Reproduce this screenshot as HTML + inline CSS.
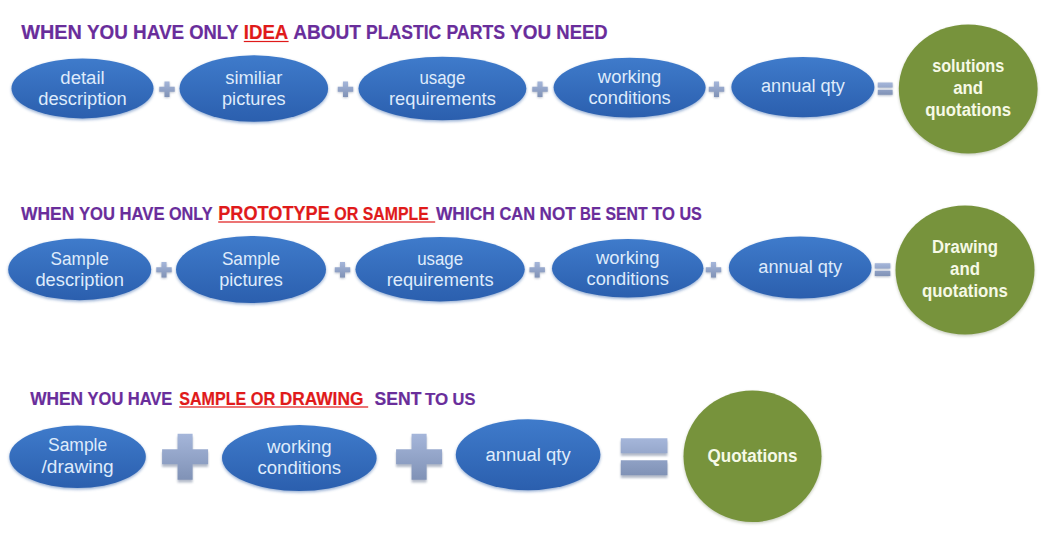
<!DOCTYPE html>
<html lang="en">
<head>
<meta charset="utf-8">
<title>Inquiry guide</title>
<style>
html,body{margin:0;padding:0;background:#fff;}
body{width:1060px;height:537px;overflow:hidden;}
svg{display:block;}
text{font-family:"Liberation Sans", sans-serif;}
.h{font-weight:700;fill:#692d9b;stroke:#692d9b;stroke-width:0.2;}
.r{font-weight:700;fill:#e01a1a;stroke:#e01a1a;stroke-width:0.2;}
.e{fill:#dfebfb;text-anchor:middle;}
.c{fill:#f6f9e6;font-weight:700;text-anchor:middle;}
</style>
</head>
<body>
<svg width="1060" height="537" viewBox="0 0 1060 537">
<defs>
<linearGradient id="gb" x1="0" y1="0" x2="0" y2="1">
<stop offset="0" stop-color="#3f7bcb"/><stop offset="1" stop-color="#2b5fae"/>
</linearGradient>
<linearGradient id="gp" x1="0" y1="0" x2="0" y2="1">
<stop offset="0" stop-color="#a5b6da"/><stop offset="1" stop-color="#8092b6"/>
</linearGradient>
<filter id="sh" x="-10%" y="-20%" width="120%" height="150%">
<feGaussianBlur stdDeviation="1.6"/>
</filter>
<filter id="sh2" x="-30%" y="-30%" width="160%" height="170%">
<feGaussianBlur stdDeviation="1.2"/>
</filter>
</defs>
<rect width="1060" height="537" fill="#fff"/>

<ellipse cx="82.5" cy="89.9" rx="71" ry="30.0" fill="#2f5fa8" opacity="0.5" filter="url(#sh)"/>
<ellipse cx="82.5" cy="88.4" rx="71" ry="30.0" fill="url(#gb)"/>
<text class="e" x="82.5" y="83.9" font-size="18.00" textLength="44.4" lengthAdjust="spacingAndGlyphs">detail</text>
<text class="e" x="82.5" y="104.9" font-size="18.00" textLength="88.6" lengthAdjust="spacingAndGlyphs">description</text>
<ellipse cx="253.8" cy="90.0" rx="74.3" ry="33.2" fill="#2f5fa8" opacity="0.5" filter="url(#sh)"/>
<ellipse cx="253.8" cy="88.5" rx="74.3" ry="33.2" fill="url(#gb)"/>
<text class="e" x="253.8" y="83.7" font-size="18.00" textLength="57.2" lengthAdjust="spacingAndGlyphs">similiar</text>
<text class="e" x="253.8" y="104.7" font-size="18.00" textLength="63.6" lengthAdjust="spacingAndGlyphs">pictures</text>
<ellipse cx="442.4" cy="90.0" rx="83.9" ry="31.8" fill="#2f5fa8" opacity="0.5" filter="url(#sh)"/>
<ellipse cx="442.4" cy="88.5" rx="83.9" ry="31.8" fill="url(#gb)"/>
<text class="e" x="442.4" y="83.7" font-size="18.00" textLength="45.9" lengthAdjust="spacingAndGlyphs">usage</text>
<text class="e" x="442.4" y="104.7" font-size="18.00" textLength="106.9" lengthAdjust="spacingAndGlyphs">requirements</text>
<ellipse cx="629.6" cy="89.1" rx="76" ry="29.8" fill="#2f5fa8" opacity="0.5" filter="url(#sh)"/>
<ellipse cx="629.6" cy="87.6" rx="76" ry="29.8" fill="url(#gb)"/>
<text class="e" x="629.6" y="82.8" font-size="18.00" textLength="63.5" lengthAdjust="spacingAndGlyphs">working</text>
<text class="e" x="629.6" y="103.8" font-size="18.00" textLength="82.3" lengthAdjust="spacingAndGlyphs">conditions</text>
<ellipse cx="802.9" cy="88.6" rx="71.5" ry="30.2" fill="#2f5fa8" opacity="0.5" filter="url(#sh)"/>
<ellipse cx="802.9" cy="87.1" rx="71.5" ry="30.2" fill="url(#gb)"/>
<text class="e" x="802.9" y="91.9" font-size="18.00" textLength="83.8" lengthAdjust="spacingAndGlyphs">annual qty</text>
<path d="M164.5 81.5h5.0v5.2h5.2v5.0h-5.2v5.2h-5.0v-5.2h-5.2v-5.0h5.2z" fill="#5a6a8a" opacity="0.45" filter="url(#sh2)" transform="translate(0,0.9)"/>
<path d="M164.5 81.5h5.0v5.2h5.2v5.0h-5.2v5.2h-5.0v-5.2h-5.2v-5.0h5.2z" fill="url(#gp)"/>
<path d="M343.0 81.5h5.0v5.2h5.2v5.0h-5.2v5.2h-5.0v-5.2h-5.2v-5.0h5.2z" fill="#5a6a8a" opacity="0.45" filter="url(#sh2)" transform="translate(0,0.9)"/>
<path d="M343.0 81.5h5.0v5.2h5.2v5.0h-5.2v5.2h-5.0v-5.2h-5.2v-5.0h5.2z" fill="url(#gp)"/>
<path d="M537.5 81.5h5.0v5.2h5.2v5.0h-5.2v5.2h-5.0v-5.2h-5.2v-5.0h5.2z" fill="#5a6a8a" opacity="0.45" filter="url(#sh2)" transform="translate(0,0.9)"/>
<path d="M537.5 81.5h5.0v5.2h5.2v5.0h-5.2v5.2h-5.0v-5.2h-5.2v-5.0h5.2z" fill="url(#gp)"/>
<path d="M714.0 81.5h5.0v5.2h5.2v5.0h-5.2v5.2h-5.0v-5.2h-5.2v-5.0h5.2z" fill="#5a6a8a" opacity="0.45" filter="url(#sh2)" transform="translate(0,0.9)"/>
<path d="M714.0 81.5h5.0v5.2h5.2v5.0h-5.2v5.2h-5.0v-5.2h-5.2v-5.0h5.2z" fill="url(#gp)"/>
<path d="M877.8 82.6h14.8v5.0h-14.8zM877.8 89.8h14.8v5.0h-14.8z" fill="#5a6a8a" opacity="0.45" filter="url(#sh2)" transform="translate(0,0.9)"/>
<path d="M877.8 82.6h14.8v5.0h-14.8zM877.8 89.8h14.8v5.0h-14.8z" fill="url(#gp)"/>
<ellipse cx="968.2" cy="90.5" rx="69.4" ry="64.6" fill="#4a5a2a" opacity="0.3" filter="url(#sh)"/>
<ellipse cx="968.2" cy="89" rx="69.4" ry="64.6" fill="#77933c"/>
<text class="c" x="968.2" y="71.8" font-size="17.50" textLength="72.1" lengthAdjust="spacingAndGlyphs">solutions</text>
<text class="c" x="968.2" y="93.7" font-size="17.50" textLength="29.9" lengthAdjust="spacingAndGlyphs">and</text>
<text class="c" x="968.2" y="115.6" font-size="17.50" textLength="85.8" lengthAdjust="spacingAndGlyphs">quotations</text>
<ellipse cx="79.7" cy="270.9" rx="71.5" ry="30.8" fill="#2f5fa8" opacity="0.5" filter="url(#sh)"/>
<ellipse cx="79.7" cy="269.4" rx="71.5" ry="30.8" fill="url(#gb)"/>
<text class="e" x="79.7" y="264.5" font-size="18.00" textLength="58.2" lengthAdjust="spacingAndGlyphs">Sample</text>
<text class="e" x="79.7" y="285.5" font-size="18.00" textLength="88.6" lengthAdjust="spacingAndGlyphs">description</text>
<ellipse cx="251" cy="271.0" rx="75" ry="33.5" fill="#2f5fa8" opacity="0.5" filter="url(#sh)"/>
<ellipse cx="251" cy="269.5" rx="75" ry="33.5" fill="url(#gb)"/>
<text class="e" x="251" y="264.6" font-size="18.00" textLength="58.2" lengthAdjust="spacingAndGlyphs">Sample</text>
<text class="e" x="251" y="285.6" font-size="18.00" textLength="63.6" lengthAdjust="spacingAndGlyphs">pictures</text>
<ellipse cx="440.1" cy="270.8" rx="84.6" ry="32.2" fill="#2f5fa8" opacity="0.5" filter="url(#sh)"/>
<ellipse cx="440.1" cy="269.3" rx="84.6" ry="32.2" fill="url(#gb)"/>
<text class="e" x="440.1" y="264.6" font-size="18.00" textLength="45.9" lengthAdjust="spacingAndGlyphs">usage</text>
<text class="e" x="440.1" y="285.6" font-size="18.00" textLength="106.9" lengthAdjust="spacingAndGlyphs">requirements</text>
<ellipse cx="627.7" cy="269.8" rx="75.7" ry="29.3" fill="#2f5fa8" opacity="0.5" filter="url(#sh)"/>
<ellipse cx="627.7" cy="268.3" rx="75.7" ry="29.3" fill="url(#gb)"/>
<text class="e" x="627.7" y="263.6" font-size="18.00" textLength="63.5" lengthAdjust="spacingAndGlyphs">working</text>
<text class="e" x="627.7" y="284.6" font-size="18.00" textLength="82.3" lengthAdjust="spacingAndGlyphs">conditions</text>
<ellipse cx="800.2" cy="269.0" rx="71.3" ry="31" fill="#2f5fa8" opacity="0.5" filter="url(#sh)"/>
<ellipse cx="800.2" cy="267.5" rx="71.3" ry="31" fill="url(#gb)"/>
<text class="e" x="800.2" y="273.1" font-size="18.00" textLength="83.8" lengthAdjust="spacingAndGlyphs">annual qty</text>
<path d="M161.5 262.1h5.0v5.2h5.2v5.0h-5.2v5.2h-5.0v-5.2h-5.2v-5.0h5.2z" fill="#5a6a8a" opacity="0.45" filter="url(#sh2)" transform="translate(0,0.9)"/>
<path d="M161.5 262.1h5.0v5.2h5.2v5.0h-5.2v5.2h-5.0v-5.2h-5.2v-5.0h5.2z" fill="url(#gp)"/>
<path d="M340.0 262.1h5.0v5.2h5.2v5.0h-5.2v5.2h-5.0v-5.2h-5.2v-5.0h5.2z" fill="#5a6a8a" opacity="0.45" filter="url(#sh2)" transform="translate(0,0.9)"/>
<path d="M340.0 262.1h5.0v5.2h5.2v5.0h-5.2v5.2h-5.0v-5.2h-5.2v-5.0h5.2z" fill="url(#gp)"/>
<path d="M534.7 262.1h5.0v5.2h5.2v5.0h-5.2v5.2h-5.0v-5.2h-5.2v-5.0h5.2z" fill="#5a6a8a" opacity="0.45" filter="url(#sh2)" transform="translate(0,0.9)"/>
<path d="M534.7 262.1h5.0v5.2h5.2v5.0h-5.2v5.2h-5.0v-5.2h-5.2v-5.0h5.2z" fill="url(#gp)"/>
<path d="M711.0 262.1h5.0v5.2h5.2v5.0h-5.2v5.2h-5.0v-5.2h-5.2v-5.0h5.2z" fill="#5a6a8a" opacity="0.45" filter="url(#sh2)" transform="translate(0,0.9)"/>
<path d="M711.0 262.1h5.0v5.2h5.2v5.0h-5.2v5.2h-5.0v-5.2h-5.2v-5.0h5.2z" fill="url(#gp)"/>
<path d="M874.8 263.2h15.5v5.3h-15.5zM874.8 270.8h15.5v5.3h-15.5z" fill="#5a6a8a" opacity="0.45" filter="url(#sh2)" transform="translate(0,0.9)"/>
<path d="M874.8 263.2h15.5v5.3h-15.5zM874.8 270.8h15.5v5.3h-15.5z" fill="url(#gp)"/>
<ellipse cx="965" cy="271.5" rx="69.5" ry="64.6" fill="#4a5a2a" opacity="0.3" filter="url(#sh)"/>
<ellipse cx="965" cy="270" rx="69.5" ry="64.6" fill="#77933c"/>
<text class="c" x="965" y="253.0" font-size="17.50" textLength="65.9" lengthAdjust="spacingAndGlyphs">Drawing</text>
<text class="c" x="965" y="274.9" font-size="17.50" textLength="29.9" lengthAdjust="spacingAndGlyphs">and</text>
<text class="c" x="965" y="296.8" font-size="17.50" textLength="85.8" lengthAdjust="spacingAndGlyphs">quotations</text>
<ellipse cx="77.6" cy="458.3" rx="68.2" ry="31.2" fill="#2f5fa8" opacity="0.5" filter="url(#sh)"/>
<ellipse cx="77.6" cy="456.8" rx="68.2" ry="31.2" fill="url(#gb)"/>
<text class="e" x="77.6" y="451.1" font-size="18.28" textLength="59.2" lengthAdjust="spacingAndGlyphs">Sample</text>
<text class="e" x="77.6" y="472.5" font-size="18.28" textLength="72.3" lengthAdjust="spacingAndGlyphs">/drawing</text>
<ellipse cx="299.3" cy="459.5" rx="77.3" ry="33" fill="#2f5fa8" opacity="0.5" filter="url(#sh)"/>
<ellipse cx="299.3" cy="458" rx="77.3" ry="33" fill="url(#gb)"/>
<text class="e" x="299.3" y="452.7" font-size="18.28" textLength="64.5" lengthAdjust="spacingAndGlyphs">working</text>
<text class="e" x="299.3" y="474.1" font-size="18.28" textLength="83.6" lengthAdjust="spacingAndGlyphs">conditions</text>
<ellipse cx="528.1" cy="456.3" rx="72.3" ry="35.5" fill="#2f5fa8" opacity="0.5" filter="url(#sh)"/>
<ellipse cx="528.1" cy="454.8" rx="72.3" ry="35.5" fill="url(#gb)"/>
<text class="e" x="528.1" y="460.5" font-size="18.28" textLength="85.1" lengthAdjust="spacingAndGlyphs">annual qty</text>
<path d="M177.6 433.8h15.0v15.5h15.5v15.0h-15.5v15.5h-15.0v-15.5h-15.5v-15.0h15.5z" fill="#5a6a8a" opacity="0.45" filter="url(#sh2)" transform="translate(0,2.8)"/>
<path d="M177.6 433.8h15.0v15.5h15.5v15.0h-15.5v15.5h-15.0v-15.5h-15.5v-15.0h15.5z" fill="url(#gp)"/>
<path d="M411.6 433.8h15.0v15.5h15.5v15.0h-15.5v15.5h-15.0v-15.5h-15.5v-15.0h15.5z" fill="#5a6a8a" opacity="0.45" filter="url(#sh2)" transform="translate(0,2.8)"/>
<path d="M411.6 433.8h15.0v15.5h15.5v15.0h-15.5v15.5h-15.0v-15.5h-15.5v-15.0h15.5z" fill="url(#gp)"/>
<path d="M620.8 438.3h46.6v15.0h-46.6zM620.8 460.3h46.6v15.0h-46.6z" fill="#5a6a8a" opacity="0.45" filter="url(#sh2)" transform="translate(0,2.8)"/>
<path d="M620.8 438.3h46.6v15.0h-46.6zM620.8 460.3h46.6v15.0h-46.6z" fill="url(#gp)"/>
<ellipse cx="752.5" cy="457.8" rx="69.0" ry="65.8" fill="#4a5a2a" opacity="0.3" filter="url(#sh)"/>
<ellipse cx="752.5" cy="456.3" rx="69.0" ry="65.8" fill="#77933c"/>
<text class="c" x="752.5" y="462.0" font-size="17.77" textLength="90.0" lengthAdjust="spacingAndGlyphs">Quotations</text>
<text y="38.8"><tspan class="h" x="21.3" font-size="19.8" textLength="60.6" lengthAdjust="spacingAndGlyphs">WHEN</tspan> <tspan class="h" x="87.0" font-size="19.8" textLength="40.9" lengthAdjust="spacingAndGlyphs">YOU</tspan> <tspan class="h" x="133.0" font-size="19.8" textLength="51.1" lengthAdjust="spacingAndGlyphs">HAVE</tspan> <tspan class="h" x="189.2" font-size="19.8" textLength="49.4" lengthAdjust="spacingAndGlyphs">ONLY</tspan> <tspan class="r" x="243.8" font-size="19.8" textLength="44.5" lengthAdjust="spacingAndGlyphs">IDEA</tspan> <tspan class="h" x="293.2" font-size="19.8" textLength="67.8" lengthAdjust="spacingAndGlyphs">ABOUT</tspan> <tspan class="h" x="366.1" font-size="19.8" textLength="75.1" lengthAdjust="spacingAndGlyphs">PLASTIC</tspan> <tspan class="h" x="446.4" font-size="19.8" textLength="58.6" lengthAdjust="spacingAndGlyphs">PARTS</tspan> <tspan class="h" x="510.1" font-size="19.8" textLength="41.0" lengthAdjust="spacingAndGlyphs">YOU</tspan> <tspan class="h" x="556.3" font-size="19.8" textLength="51.3" lengthAdjust="spacingAndGlyphs">NEED</tspan></text>
<rect x="243.8" y="40.9" width="44.8" height="1.2" fill="#e01a1a"/>
<text y="219.6"><tspan class="h" x="21.0" font-size="17.7" textLength="53.4" lengthAdjust="spacingAndGlyphs">WHEN</tspan> <tspan class="h" x="78.9" font-size="17.7" textLength="36.0" lengthAdjust="spacingAndGlyphs">YOU</tspan> <tspan class="h" x="119.5" font-size="17.7" textLength="45.1" lengthAdjust="spacingAndGlyphs">HAVE</tspan> <tspan class="h" x="169.0" font-size="17.7" textLength="43.6" lengthAdjust="spacingAndGlyphs">ONLY</tspan> <tspan class="r" x="218.2" font-size="20.4" textLength="111.6" lengthAdjust="spacingAndGlyphs">PROTOTYPE</tspan> <tspan class="r" x="334.3" font-size="17.9" textLength="24.1" lengthAdjust="spacingAndGlyphs">OR</tspan> <tspan class="r" x="362.8" font-size="17.9" textLength="65.9" lengthAdjust="spacingAndGlyphs">SAMPLE</tspan> <tspan class="h" x="435.9" font-size="17.7" textLength="59.0" lengthAdjust="spacingAndGlyphs">WHICH</tspan> <tspan class="h" x="499.4" font-size="17.7" textLength="35.7" lengthAdjust="spacingAndGlyphs">CAN</tspan> <tspan class="h" x="539.6" font-size="17.7" textLength="36.0" lengthAdjust="spacingAndGlyphs">NOT</tspan> <tspan class="h" x="580.1" font-size="17.7" textLength="20.9" lengthAdjust="spacingAndGlyphs">BE</tspan> <tspan class="h" x="605.5" font-size="17.7" textLength="42.1" lengthAdjust="spacingAndGlyphs">SENT</tspan> <tspan class="h" x="652.1" font-size="17.7" textLength="22.8" lengthAdjust="spacingAndGlyphs">TO</tspan> <tspan class="h" x="679.4" font-size="17.7" textLength="22.4" lengthAdjust="spacingAndGlyphs">US</tspan></text>
<rect x="218.2" y="221.4" width="217.0" height="1.2" fill="#e01a1a"/>
<text y="404.6"><tspan class="h" x="30.2" font-size="17.7" textLength="52.9" lengthAdjust="spacingAndGlyphs">WHEN</tspan> <tspan class="h" x="87.6" font-size="17.7" textLength="35.7" lengthAdjust="spacingAndGlyphs">YOU</tspan> <tspan class="h" x="127.7" font-size="17.7" textLength="44.7" lengthAdjust="spacingAndGlyphs">HAVE</tspan> <tspan class="r" x="179.2" font-size="17.7" textLength="67.0" lengthAdjust="spacingAndGlyphs">SAMPLE</tspan> <tspan class="r" x="250.7" font-size="17.7" textLength="24.5" lengthAdjust="spacingAndGlyphs">OR</tspan> <tspan class="r" x="279.7" font-size="17.7" textLength="83.7" lengthAdjust="spacingAndGlyphs">DRAWING</tspan> <tspan class="h" x="374.6" font-size="18.8" textLength="46.8" lengthAdjust="spacingAndGlyphs">SENT</tspan> <tspan class="h" x="424.9" font-size="16.4" textLength="23.2" lengthAdjust="spacingAndGlyphs">TO</tspan> <tspan class="h" x="452.6" font-size="16.4" textLength="22.8" lengthAdjust="spacingAndGlyphs">US</tspan></text>
<rect x="179.2" y="406.4" width="189.0" height="1.2" fill="#e01a1a"/>
</svg>
</body>
</html>
